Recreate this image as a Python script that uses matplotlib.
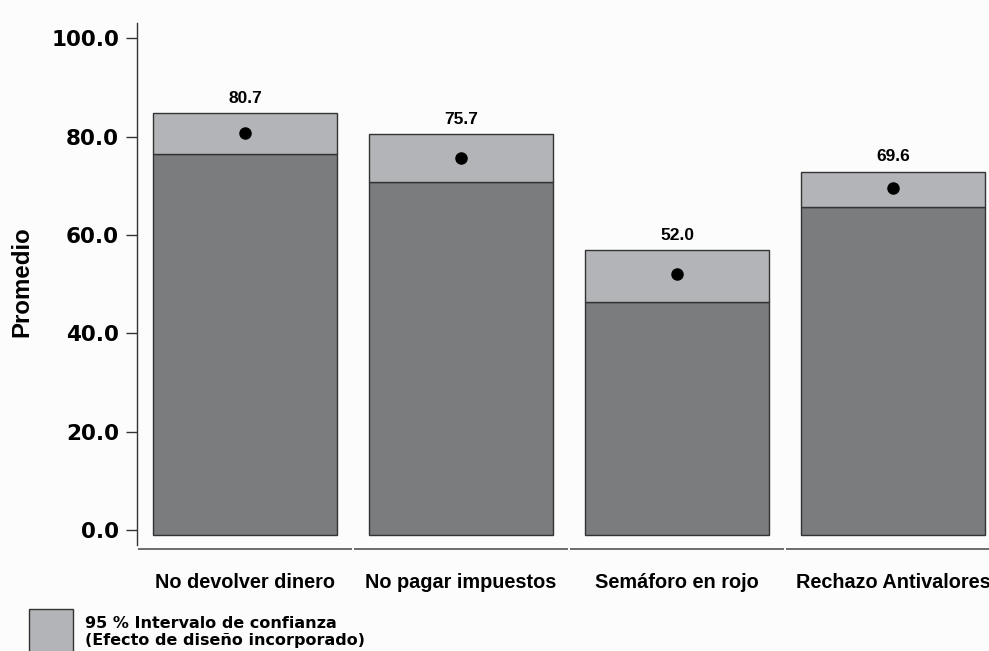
import matplotlib
matplotlib.use("Agg")
import matplotlib.pyplot as plt
from matplotlib.patches import Rectangle

# datos
categorias = ["No devolver dinero", "No pagar impuestos", "Semáforo en rojo", "Rechazo Antivalores"]
promedios = [80.7, 75.7, 52.0, 69.6]
ic_inf = [76.5, 70.8, 46.3, 65.7]
ic_sup = [84.7, 80.5, 56.9, 72.9]
yticks = [0, 20, 40, 60, 80, 100]

plt.rcParams['font.family'] = ['Liberation Sans', 'DejaVu Sans']
plt.rcParams['font.weight'] = 'bold'

oscuro = "#7b7c7e"
claro = "#b3b4b7"
borde = "#333333"
base = -1.0  # las barras arrancan un poco por debajo de cero

fig = plt.figure(figsize=(9.89, 6.51), dpi=100, facecolor="#fcfcfc")
ax = fig.add_axes([137 / 989, 106 / 651, 864 / 989, 522 / 651])
ax.set_facecolor("#fcfcfc")

x = list(range(len(categorias)))
ancho = 0.85
alto_ic = [s - i for s, i in zip(ic_sup, ic_inf)]
alto_base = [i - base for i in ic_inf]

ax.bar(x, alto_base, width=ancho, bottom=base, color=oscuro, edgecolor=borde, linewidth=1)
ax.bar(x, alto_ic, width=ancho, bottom=ic_inf, color=claro, edgecolor=borde, linewidth=1)
ax.plot(x, promedios, 'o', color='black', markersize=8)

for xi, s, p in zip(x, ic_sup, promedios):
    ax.annotate(f"{p:.1f}", (xi, s), xytext=(0, 7.5), textcoords='offset points',
                ha='center', va='baseline', fontsize=12.5, fontweight='bold')

ax.set_xlim(-0.5, len(categorias) - 0.5)
ax.set_ylim(-3.05, 103.1)
ax.set_yticks(yticks)
ax.set_yticklabels([f"{v:.1f}" for v in yticks], fontsize=15.5, fontweight='bold',
                   family='DejaVu Sans')
ax.tick_params(axis='y', length=8, width=1, pad=5, color=borde)
ax.set_xticks(x)
ax.set_xticklabels(categorias, fontsize=14.3, fontweight='bold')
ax.tick_params(axis='x', length=0, pad=20.5)

fig.text(22 / 989, 1 - 282 / 651, "Promedio", rotation=90, fontsize=17.3,
         fontweight='bold', ha='center', va='center')

for lado in ['top', 'right', 'bottom']:
    ax.spines[lado].set_visible(False)
ax.spines['left'].set_color(borde)
ax.spines['left'].set_linewidth(1)

# eje x partido por categoria
for xi in x:
    ax.hlines(-3.85, xi - 0.497, xi + 0.497, color="#555555", linewidth=1.2, clip_on=False)

# leyenda manual
fig.patches.append(Rectangle((29 / 989, (651 - 653) / 651), 44 / 989, 44 / 651,
                             transform=fig.transFigure, facecolor=claro, edgecolor=borde, linewidth=1))
fig.text(85 / 989, (651 - 627.5) / 651, "95 % Intervalo de confianza", fontsize=11.5,
         fontweight='bold', va='baseline', family='DejaVu Sans')
fig.text(85 / 989, (651 - 645) / 651, "(Efecto de diseño incorporado)", fontsize=11.5,
         fontweight='bold', va='baseline', family='DejaVu Sans')

fig.savefig("out.png", dpi=100, facecolor=fig.get_facecolor())
